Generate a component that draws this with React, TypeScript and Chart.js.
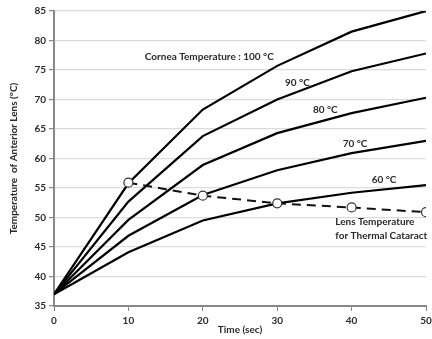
import React, { useEffect, useRef } from "react";
import { Chart, registerables } from "chart.js";

Chart.register(...registerables);

const times = [0, 10, 20, 30, 40, 50];
const cornea100 = [37, 55.8, 68.3, 75.7, 81.5, 85.0];
const cornea90 = [37, 52.7, 63.8, 70.0, 74.8, 77.8];
const cornea80 = [37, 49.6, 58.9, 64.3, 67.7, 70.3];
const cornea70 = [37, 46.9, 53.8, 58.0, 60.9, 63.0];
const cornea60 = [37, 44.1, 49.5, 52.4, 54.2, 55.5];
const lensCataract = [null, 55.9, 53.7, 52.4, 51.7, 50.9];

const labelTexts = [
  "Cornea Temperature : 100 °C",
  "90 °C",
  "80 °C",
  "70 °C",
  "60 °C",
  "Lens Temperature",
  "for Thermal Cataract",
];
// anchor (time, temperature) for each label's left-middle point
const labelAnchors: [number, number][] = [
  [12.2, 77.2],
  [31.05, 72.8],
  [34.8, 68.2],
  [38.8, 62.5],
  [42.7, 56.4],
  [37.8, 49.2],
  [37.8, 46.9],
];

const FONT = "Lato, 'Liberation Sans', sans-serif";

function pts(vals: (number | null)[]) {
  return times.map((t, i) => ({ x: t, y: vals[i] as any }));
}

const labelPlugin = {
  id: "curveLabels",
  afterDatasetsDraw(chart: any) {
    const { ctx, scales } = chart;
    ctx.save();
    ctx.font = `bold 10px ${FONT}`;
    ctx.fillStyle = "#2a2a2a";
    ctx.textAlign = "left";
    ctx.textBaseline = "middle";
    labelTexts.forEach((txt, i) => {
      const [t, v] = labelAnchors[i];
      ctx.fillText(txt, scales.x.getPixelForValue(t), scales.y.getPixelForValue(v));
    });
    ctx.restore();
  },
};

export default function App() {
  const ref = useRef<HTMLCanvasElement>(null);
  useEffect(() => {
    if (!ref.current) return;
    const line = (data: (number | null)[]) => ({
      data: pts(data),
      borderColor: "#000",
      borderWidth: 2.2,
      pointRadius: 0,
      tension: 0,
      fill: false,
    });
    const chart = new Chart(ref.current, {
      type: "line",
      data: {
        datasets: [
          {
            data: pts(lensCataract),
            borderColor: "#111",
            borderWidth: 2,
            borderDash: [9, 6],
            pointRadius: 4.5,
            pointBackgroundColor: "#fff",
            pointBorderColor: "#333",
            pointBorderWidth: 1.2,
            tension: 0,
            fill: false,
            spanGaps: false,
          } as any,
          line(cornea100),
          line(cornea90),
          line(cornea80),
          line(cornea70),
          line(cornea60),
        ],
      },
      options: {
        animation: false,
        responsive: false,
        maintainAspectRatio: false,
        layout: { padding: { top: 11, right: 6, left: 0, bottom: 0 } },
        plugins: { legend: { display: false }, tooltip: { enabled: false } },
        scales: {
          x: {
            type: "linear",
            min: 0,
            max: 50,
            ticks: {
              stepSize: 10,
              padding: 4,
              color: "#2a2a2a",
              font: { family: FONT, size: 10, weight: "bold" },
            },
            grid: {
              drawOnChartArea: false,
              drawTicks: true,
              tickLength: 5,
              tickColor: "#888",
            },
            border: { color: "#888", width: 2 },
            title: {
              display: true,
              text: "Time (sec)",
              color: "#2a2a2a",
              font: { family: FONT, size: 10, weight: "bold" },
              padding: { top: 0, bottom: 3 },
            },
            afterFit(scale: any) {
              scale.height = 33;
              scale.paddingLeft = 0;
              scale.paddingRight = 0;
            },
          },
          y: {
            min: 35,
            max: 85,
            ticks: {
              stepSize: 5,
              padding: 3,
              color: "#2a2a2a",
              font: { family: FONT, size: 10, weight: "bold" },
            },
            grid: {
              color: "#dcdcdc",
              lineWidth: 1.2,
              tickLength: 5,
              tickColor: "#888",
            },
            border: { color: "#888", width: 2 },
            title: {
              display: true,
              text: "Temperature  of Anterior Lens (°C)",
              color: "#2a2a2a",
              font: { family: FONT, size: 10, weight: "bold" },
              padding: { top: 8, bottom: 0 },
            },
            afterFit(scale: any) {
              scale.width = 54;
              scale.paddingTop = 0;
              scale.paddingBottom = 0;
            },
          },
        },
      } as any,
      plugins: [labelPlugin],
    });
    return () => chart.destroy();
  }, []);
  return (
    <div style={{ position: "absolute", left: 0, top: 0, width: 432, height: 339, background: "#fff" }}>
      <canvas ref={ref} width={432} height={339} style={{ width: 432, height: 339 }} />
    </div>
  );
}
